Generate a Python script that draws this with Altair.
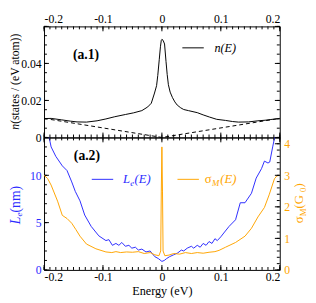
import altair as alt
import numpy as np
import pandas as pd

FONT = "Liberation Serif, Times New Roman, Times, serif"
BLUE = "#2b2bff"
ORANGE = "#ffa500"
W = 242
H1 = 114
H2 = 136
NB = "\u00a0"

# ---------------- data ----------------
E_dos = [-0.2, -0.188, -0.17, -0.155, -0.144, -0.128, -0.11, -0.095, -0.08, -0.062,
         -0.048, -0.034, -0.024, -0.018, -0.0125, -0.009, -0.007, -0.0045, -0.0025, -0.001,
         0.0, 0.002, 0.0045, 0.007, 0.009, 0.011, 0.014, 0.018, 0.022, 0.026,
         0.032, 0.037, 0.045, 0.06, 0.07, 0.081, 0.093, 0.108, 0.12, 0.13,
         0.147, 0.163, 0.175, 0.185, 0.2]
n_dos = [0.0102, 0.0103, 0.0095, 0.0088, 0.0084, 0.0083, 0.0090, 0.0100, 0.0112, 0.0124,
         0.0133, 0.0145, 0.0165, 0.0185, 0.0240, 0.0280, 0.0335, 0.0420, 0.0490, 0.0525,
         0.0530, 0.0525, 0.0505, 0.0410, 0.0340, 0.0285, 0.0245, 0.0215, 0.0192, 0.0175,
         0.0160, 0.0151, 0.0145, 0.0134, 0.0122, 0.0110, 0.0098, 0.0092, 0.0086, 0.0083,
         0.0084, 0.0090, 0.0093, 0.0097, 0.0103]

E_lin = [-0.2, 0.0, 0.2]
n_lin = [0.0103, 0.0, 0.0103]

E_L = [-0.192, -0.188, -0.18, -0.169, -0.161, -0.153, -0.147, -0.139, -0.131, -0.12,
       -0.107, -0.095, -0.09, -0.084, -0.078, -0.073, -0.068, -0.062, -0.056, -0.051,
       -0.045, -0.04, -0.034, -0.027, -0.02, -0.012, -0.006, 0.0, 0.004, 0.008,
       0.013, 0.02, 0.027, 0.033, 0.037, 0.043, 0.05, 0.054, 0.06, 0.065,
       0.07, 0.075, 0.08, 0.085, 0.09, 0.094, 0.1, 0.105, 0.114, 0.125,
       0.133, 0.141, 0.152, 0.16, 0.169, 0.174, 0.18, 0.183, 0.188, 0.192]
L_e = [14.2, 13.0, 12.0, 11.0, 10.5, 9.3, 8.3, 7.3, 5.8, 4.6,
       3.6, 3.1, 3.2, 2.6, 2.8, 2.6, 2.9, 2.5, 2.6, 2.3,
       2.4, 2.1, 2.2, 1.9, 2.0, 1.4, 1.2, 0.9, 1.0, 1.2,
       1.4, 1.6, 1.8, 2.1, 2.0, 2.3, 2.5, 2.3, 2.6, 2.4,
       2.8, 2.6, 3.0, 2.8, 3.3, 3.1, 3.5, 3.9, 4.6, 5.3,
       7.1, 7.1, 8.1, 9.7, 10.7, 11.5, 11.3, 11.4, 13.0, 14.2]

E_s = [-0.2, -0.194, -0.188, -0.177, -0.169, -0.161, -0.153, -0.146, -0.139, -0.128,
       -0.112, -0.095, -0.085, -0.078, -0.07, -0.06, -0.05, -0.04, -0.03, -0.02,
       -0.012, -0.005, -0.002, -0.001, 0.0, 0.001, 0.002, 0.005, 0.012, 0.02,
       0.03, 0.04, 0.05, 0.06, 0.07, 0.08, 0.09, 0.097, 0.108, 0.125,
       0.141, 0.152, 0.163, 0.174, 0.182, 0.191, 0.195, 0.2]
sigma = [3.0, 2.9, 2.69, 2.18, 1.73, 1.63, 1.48, 1.28, 1.07, 0.82,
         0.67, 0.57, 0.55, 0.58, 0.55, 0.57, 0.56, 0.58, 0.52, 0.55,
         0.48, 0.45, 0.6, 2.5, 3.9, 2.5, 0.6, 0.45, 0.47, 0.52,
         0.50, 0.55, 0.52, 0.55, 0.53, 0.56, 0.58, 0.62, 0.72, 0.87,
         1.07, 1.32, 1.68, 1.98, 2.38, 2.89, 2.98, 3.0]

x_major = [-0.2, -0.1, 0.0, 0.1, 0.2]
x_minor = [round(v, 3) for v in np.arange(-0.2, 0.2001, 0.01)]
n_labels = [0.0, 0.02, 0.04]
n_major = [0.0, 0.02, 0.04, 0.06]
n_minor = [round(v, 4) for v in np.arange(0.0, 0.0601, 0.005)]
L_major = [0, 5, 10]
L_minor = list(range(0, 15))
s_major = [0, 1, 2, 3, 4]
s_minor = [round(v, 2) for v in np.arange(0.0, 4.2001, 0.2)]

# ---------------- scales and axes ----------------
xs = alt.Scale(domain=[-0.2, 0.2], nice=False, zero=False)
ys_n = alt.Scale(domain=[0, 0.06], nice=False, zero=False)
ys_L = alt.Scale(domain=[0, 14], nice=False, zero=False)
ys_s = alt.Scale(domain=[0, 4.2], nice=False, zero=False)
dummy = pd.DataFrame({"k": [0]})

X_LABEL_EXPR = ("datum.value == 0 ? '0' : (datum.value < 0 ? '-' + format(-datum.value, '.1f')"
                " : format(datum.value, '.1f'))")

AX_X_TOP = alt.Axis(orient="top", values=x_major, labelExpr=X_LABEL_EXPR, labelPadding=1, title=None)
AX_X_BOT = alt.Axis(orient="bottom", values=x_major, labelExpr=X_LABEL_EXPR, labelPadding=2,
                    title="Energy (eV)", titlePadding=2)
AX_N = alt.Axis(orient="left", values=n_labels, labelPadding=3, title=None,
                labelExpr="datum.value == 0 ? '0' : format(datum.value, '.2f')")
AX_L = alt.Axis(orient="left", values=L_major, labelPadding=3, title=None, labelColor=BLUE, format="d")
AX_S = alt.Axis(orient="right", values=s_major, labelPadding=4, title=None, labelColor=ORANGE, format="d")


def txt(text, x, y, size, color="black", align="left", style="normal", weight="normal",
        angle=0, dx=0, dy=0, baseline="middle"):
    kw = dict(text=text, align=align, baseline=baseline, font=FONT, fontSize=size,
              fontStyle=style, fontWeight=weight, color=color, dx=dx, dy=dy)
    if angle:
        kw["angle"] = angle
    return alt.Chart(dummy).mark_text(**kw).encode(x=alt.value(x), y=alt.value(y))


def seg(x1, x2, y, color):
    return alt.Chart(dummy).mark_rule(color=color, strokeWidth=1).encode(
        x=alt.value(x1), x2=alt.value(x2), y=alt.value(y))


def xticks(h, xaxis):
    out = []
    for vals, ln in ((x_major, 5), (x_minor, 3)):
        base = alt.Chart(pd.DataFrame({"E": vals})).mark_rule(color="black", strokeWidth=1)
        xe = alt.X("E:Q", scale=xs, axis=xaxis)
        out.append(base.encode(x=xe, y=alt.value(0), y2=alt.value(ln)))
        out.append(base.encode(x=xe, y=alt.value(h), y2=alt.value(h - ln)))
    return out


def yticks(major, minor, scale, yaxis, left=True, right=True):
    out = []
    for vals, ln in ((major, 5), (minor, 3)):
        base = alt.Chart(pd.DataFrame({"v": vals})).mark_rule(color="black", strokeWidth=1)
        ye = alt.Y("v:Q", scale=scale, axis=yaxis)
        if left:
            out.append(base.encode(y=ye, x=alt.value(0), x2=alt.value(ln)))
        if right:
            out.append(base.encode(y=ye, x=alt.value(W), x2=alt.value(W - ln)))
    return out


# ---------------- top panel ----------------
df_dos = pd.DataFrame({"E": E_dos, "n": n_dos})
df_lin = pd.DataFrame({"E": E_lin, "n": n_lin})

n_line = alt.Chart(df_dos).mark_line(color="black", strokeWidth=1).encode(
    x=alt.X("E:Q", scale=xs, axis=AX_X_TOP),
    y=alt.Y("n:Q", scale=ys_n, axis=AX_N),
)
n_lin_line = alt.Chart(df_lin).mark_line(color="black", strokeWidth=1, strokeDash=[4, 3]).encode(
    x=alt.X("E:Q", scale=xs, axis=AX_X_TOP),
    y=alt.Y("n:Q", scale=ys_n, axis=AX_N),
)

top_layers = [n_line, n_lin_line] + xticks(H1, AX_X_TOP) + yticks(n_major, n_minor, ys_n, AX_N) + [
    txt("(a.1)", 43, 29, 14, weight="bold", align="center"),
    seg(142, 164, 22, "black"),
    txt("n(E)", 175, 22, 12.5, style="italic"),
    # y title: n (states / (eV atom))
    txt("n", -30, 100, 12, style="italic", align="right", angle=270),
    txt(NB + "(states / (eV atom))", -30, 100, 12, align="left", angle=270),
]
top = alt.layer(*top_layers).properties(width=W, height=H1)

# ---------------- bottom panel ----------------
df_L = pd.DataFrame({"E": E_L, "L": L_e})
df_s = pd.DataFrame({"E": E_s, "s": sigma})

L_line = alt.Chart(df_L).mark_line(color=BLUE, strokeWidth=1, clip=True).encode(
    x=alt.X("E:Q", scale=xs, axis=AX_X_BOT),
    y=alt.Y("L:Q", scale=ys_L, axis=AX_L),
)
s_line = alt.Chart(df_s).mark_line(color=ORANGE, strokeWidth=1, clip=True).encode(
    x=alt.X("E:Q", scale=xs, axis=AX_X_BOT),
    y=alt.Y("s:Q", scale=ys_s, axis=AX_S),
)

L_group = alt.layer(
    L_line, *xticks(H2, AX_X_BOT), *yticks(L_major, L_minor, ys_L, AX_L, left=True, right=False),
    txt("(a.2)", 44, 19, 14, weight="bold", align="center"),
    seg(49, 71, 43, BLUE),
    txt("L", 81, 43, 13, color=BLUE, style="italic"),
    txt("e", 88.5, 47, 9, color=BLUE, style="italic"),
    txt("(E)", 93, 43, 13, color=BLUE, style="italic"),
    seg(137, 159, 43, ORANGE),
    txt("σ", 165, 43, 13, color=ORANGE),
    txt("M", 172.5, 47, 9, color=ORANGE, style="italic"),
    txt("(E)", 181, 43, 13, color=ORANGE, style="italic"),
    # left title: L_e (nm)
    txt("L", -29, 89, 14, color=BLUE, style="italic", angle=270),
    txt("e", -29, 89, 9.5, color=BLUE, style="italic", angle=270, dx=7.8, dy=3.5),
    txt(NB + "(nm)", -29, 89, 14, color=BLUE, angle=270, dx=12),
)
S_group = alt.layer(
    s_line, *yticks(s_major, s_minor, ys_s, AX_S, left=False, right=True),
    # right title: sigma_M (G_0)
    txt("σ", W + 20, 88, 13, color=ORANGE, angle=270),
    txt("M", W + 20, 88, 9, color=ORANGE, angle=270, dx=7.2, dy=3.5),
    txt(NB + "(G", W + 20, 88, 13, color=ORANGE, angle=270, dx=15),
    txt("0", W + 20, 88, 9, color=ORANGE, angle=270, dx=32, dy=3.5),
    txt(")", W + 20, 88, 13, color=ORANGE, angle=270, dx=36.5),
)
bottom = alt.layer(L_group, S_group).resolve_scale(y="independent").properties(width=W, height=H2)

chart = (
    alt.vconcat(top, bottom, spacing=0, bounds="flush")
    .properties(padding=0)
    .configure_view(stroke="black", strokeWidth=1)
    .configure_axis(labelFont=FONT, titleFont=FONT, labelFontSize=12, titleFontSize=12.5,
                    labelColor="black", titleColor="black", titleFontWeight="normal",
                    ticks=False, domain=False, grid=False)
)

chart.save("out.html", embed_options={"renderer": "svg", "actions": False})
